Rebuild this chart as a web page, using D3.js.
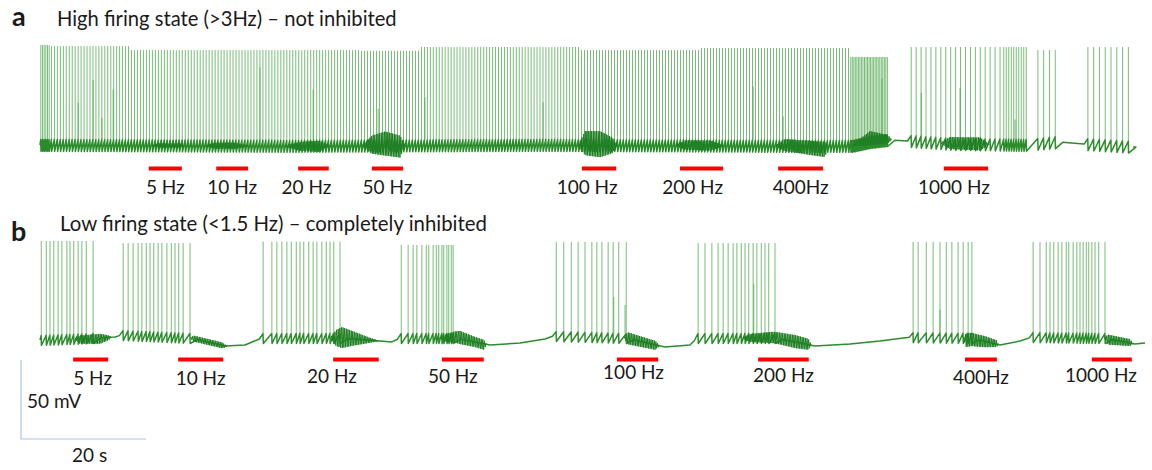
<!DOCTYPE html>
<html>
<head>
<meta charset="utf-8">
<script src="https://cdn.jsdelivr.net/npm/d3@7/dist/d3.min.js"></script>
<style>
body { margin: 0; background: #fff; }
text { font-family: Lato, "Open Sans", sans-serif; fill: #1a1a1a; }
</style>
</head>
<body>
<svg id="fig" width="1152" height="470"></svg>
<script>
// time in s, membrane potential in mV
var stimLabels = ["5 Hz", "10 Hz", "20 Hz", "50 Hz", "100 Hz", "200 Hz", "400Hz", "1000 Hz"];

// panel a: high firing state
var stimA = [[17.4, 22.7], [28.2, 33.3], [41.3, 46.2], [53.1, 58.1], [86.7, 92.2], [102.4, 109.3], [118.1, 125.3], [144.6, 151.7]];
// firing epochs: start, end, spike count, peak mV
var epochsA = [[0, 1.6, 6, 5.2], [1.6, 14.4, 27, 4.5], [14.4, 51.2, 77, 2.0], [51.2, 60.8, 20, 1.5],
               [60.8, 86.4, 54, 3.9], [86.4, 105.6, 40, 2.0], [105.6, 129.6, 50, 3.3], [129.6, 135.7, 25, -2.4],
               [139.0, 154.0, 19, 3.9], [154.0, 158.0, 10, 3.9], [159.2, 162.9, 4, 2.0], [167.2, 174.6, 8, 3.9]];
var partialA = [[6.1, -31.5], [8.5, -17], [9.9, -41], [11.7, -23], [35.2, -9], [43.7, -23], [54.1, -35], [61.6, -28],
                [80.5, -31], [114.1, -21], [118.9, -40], [134.7, -16], [141.0, -25], [147.2, -22], [156.0, -42]];
var baseA = [[0, -58.1], [40, -58.7], [80, -58.1], [120, -58.7], [130, -58.7], [133, -56.2], [136, -54.9],
             [139, -55.6], [146, -57.5], [158, -58.1], [163, -56.2], [167, -57.5], [174.9, -59.4]];
// stimulus artefact envelope: time, up mV, down mV
var artA = [[0, 0, 0], [17.6, 0, 0], [19.2, 1.3, 1.3], [22.4, 1.3, 1.3], [23.2, 0, 0],
            [26.4, 0, 0], [28, 1.9, 1.9], [31.2, 1.9, 1.9], [33.6, 0, 0],
            [39.2, 0, 0], [41.6, 2.5, 3.2], [44.8, 3.2, 3.8], [46.4, 0, 0],
            [51.5, 0, 0], [53.1, 6.3, 5.1], [55.2, 8.9, 6.3], [57.6, 6.3, 7.6], [58.4, 0, 0],
            [86.1, 0, 0], [87.2, 8.9, 6.3], [89.6, 8.9, 7.6], [91.5, 5.1, 5.1], [92.5, 0, 0],
            [101.6, 0, 0], [103.2, 3.2, 2.5], [107.2, 3.2, 3.2], [109.6, 0, 0],
            [117.6, 0, 0], [119.2, 4.4, 3.2], [123.2, 3.2, 5.7], [125.6, 2.5, 7.0], [126.1, 0, 0],
            [129.6, 0, 0], [132.8, 7.0, 1.9], [135.7, 3.2, 1.9], [136.3, 0, 0],
            [144, 0, 0], [145.6, 4.4, 3.2], [150.4, 4.4, 3.8], [152, 0, 0], [174.9, 0, 0]];

// panel b: low firing state
var stimB = [[5.3, 10.9], [22.1, 29.3], [46.9, 54.2], [64.3, 71.0], [92.3, 98.9], [114.9, 123.0], [148.0, 153.1], [168.3, 174.7]];
var spikesB = [
  [0.2, 1.0, 1.6, 2.2, 2.9, 3.5, 4.3, 4.8, 5.4, 6.1, 6.7, 7.4, 8.5],
  [13.3, 14.1, 14.9, 15.7, 16.3, 17.0, 17.6, 18.2, 18.9, 19.5, 20.3, 21.0, 21.6, 22.2, 22.9, 24.0],
  [35.7, 37.1, 37.9, 38.7, 39.5, 40.2, 41.0, 41.6, 42.2, 43.0, 43.7, 44.3, 45.1, 45.8, 46.4, 47.0, 48.0],
  [57.8, 58.9, 59.7, 60.3, 61.1, 61.8, 62.2, 62.9, 63.4, 63.8, 64.3, 64.6, 65.1, 65.4, 65.8, 66.1],
  [82.6, 83.8, 85.0, 86.1, 87.2, 88.3, 89.1, 89.9, 90.9, 91.7, 92.6, 93.8],
  [105.3, 106.4, 107.5, 108.5, 109.3, 110.1, 110.9, 111.5, 112.2, 112.8, 113.4, 114.1, 114.7, 115.4, 116.0, 116.6, 117.6],
  [139.7, 140.5, 141.8, 142.9, 144.0, 145.0, 145.9, 146.9, 147.7, 148.5, 149.1],
  [158.9, 160.0, 161.0, 161.6, 162.2, 162.9, 163.5, 164.2, 164.6, 165.3, 165.9, 166.4, 166.9, 167.4, 167.8, 168.3, 168.8, 169.4, 170.4]
];
var peaksB = [1.4, 0.1, 1.0, -1.1, 0.8, 0.1, 0.8, 0.8];
var partialB = [[91.8, -34], [93.6, -39], [114.2, -26], [144.0, -42]];
var baseB = [[0, -61.3], [8.8, -60], [12, -59.4], [13, -58.1], [24.2, -60], [29.6, -65.1], [32.8, -64.4], [35.5, -60],
             [48, -60], [54.4, -61.9], [56.3, -62.5], [57.6, -60], [66.4, -60], [72, -64.4], [76.8, -63.2],
             [80.8, -60.6], [82.1, -58.7], [93.8, -60], [100, -65.7], [104, -64.4], [105.1, -60], [117.6, -60],
             [124, -65.1], [129.6, -63.8], [134.4, -61.9], [139.2, -59.4], [149.1, -60], [153.6, -64.4],
             [156.8, -61.9], [158.7, -59.4], [170.4, -60], [175.2, -63.8], [176.8, -63.2]];
var artB = [[0, 0, 0], [5.4, 0, 0], [6.4, 1.9, 3.2], [9.6, 2.5, 3.8], [10.9, 1.3, 1.9], [11.5, 0, 0],
            [24, 0, 0], [24.6, 1.9, 1.9], [29.1, 1.9, 1.9], [30.1, 0, 0],
            [46.4, 0, 0], [47.4, 5.1, 5.1], [48.3, 7.0, 6.3], [49.9, 5.1, 4.4], [52.5, 1.9, 1.9], [54.4, 0, 0],
            [64, 0, 0], [65, 2.5, 2.5], [67.2, 5.1, 3.2], [69.6, 3.2, 3.2], [71.0, 2.5, 3.8], [71.5, 0, 0],
            [93.4, 0, 0], [94.1, 3.8, 3.8], [98.4, 2.5, 3.2], [99.2, 0, 0],
            [112.3, 0, 0], [113.6, 2.5, 2.5], [116.8, 3.8, 3.2], [120.8, 4.4, 3.8], [122.9, 3.8, 3.2], [123.5, 0, 0],
            [147.7, 0, 0], [148.2, 3.2, 5.7], [151.2, 3.2, 3.8], [153, 2.5, 1.9], [153.4, 0, 0],
            [170.2, 0, 0], [170.9, 2.5, 3.8], [174.4, 2.5, 1.9], [174.9, 0, 0], [176.8, 0, 0]];

var labelShiftA = [0, 0, -7, 0, -12, -9, 0, -12];
var labelShiftB = [2, 0, -24, -10, -4, 0, 0, -11];
var labelYB = [385, 385, 383, 383, 379, 382, 384, 382];

var svg = d3.select("#fig");
var x = d3.scaleLinear().domain([0, 176.8]).range([40, 1145]);
var yA = d3.scaleLinear().domain([-60, 0]).range([148, 53.2]);
var yB = d3.scaleLinear().domain([-60, 0]).range([338, 243.2]);

var traceDark = "#2b8c2b";
var spikeColor = "#3f9f3f";

function interp(arr, col) {
  return d3.scaleLinear().domain(arr.map(function(d) { return d[0]; }))
    .range(arr.map(function(d) { return d[col]; })).clamp(true);
}

function buildTrace(spk, base, tEnd, thr, ahp) {
  var pts = [[0, base(0)]], tPrev = null;
  var knots = base.domain();
  function addBase(a, b) {
    knots.forEach(function(t) { if (t > a && t < b) pts.push([t, base(t)]); });
  }
  spk.forEach(function(s) {
    var t = s[0];
    if (tPrev === null || t - tPrev > 2.5) {
      var from = tPrev === null ? 0 : tPrev + 1.2;
      if (tPrev !== null) pts.push([from, base(from)]);
      if (t - 0.6 > from) {
        addBase(from, t - 0.6);
        pts.push([t - 0.6, base(t - 0.6)]);
      }
    }
    pts.push([t - 0.02, base(t) + thr]);
    pts.push([t + 0.03, base(t) - ahp]);
    tPrev = t;
  });
  pts.push([tPrev + 1.2, base(tPrev + 1.2)]);
  addBase(tPrev + 1.2, tEnd);
  pts.push([tEnd, base(tEnd)]);
  return pts;
}

function artefactPath(art, base, y, tEnd) {
  var up = interp(art, 1), dn = interp(art, 2);
  var d = "", on = false, k = 0;
  for (var t = 0; t <= tEnd; t += 0.13) {
    var u = up(t), w = dn(t);
    if (u + w > 0.4) {
      var v = (k++ % 2) ? base(t) + u : base(t) - w;
      d += (on ? "L" : "M") + x(t).toFixed(2) + "," + y(v).toFixed(2);
      on = true;
    } else {
      on = false;
    }
  }
  return d;
}

function drawPanel(spk, partial, baseArr, art, y, tEnd, thr, ahp) {
  var base = interp(baseArr, 1);
  var g = svg.append("g");
  var line = d3.line().x(function(d) { return x(d[0]); }).y(function(d) { return y(d[1]); });

  g.selectAll("line.spike")
    .data(spk.concat(partial))
    .enter()
    .append("line")
    .attr("class", "spike")
    .attr("x1", function(d) { return x(d[0]); })
    .attr("x2", function(d) { return x(d[0]); })
    .attr("y1", function(d) { return y(base(d[0]) + thr); })
    .attr("y2", function(d) { return y(d[1]); })
    .attr("stroke", spikeColor)
    .attr("stroke-opacity", 0.7)
    .attr("stroke-width", 1);

  g.append("path")
    .attr("d", line(buildTrace(spk, base, tEnd, thr, ahp)))
    .attr("fill", "none")
    .attr("stroke", traceDark)
    .attr("stroke-width", 1.5)
    .attr("stroke-linejoin", "round");

  g.append("path")
    .attr("d", artefactPath(art, base, y, tEnd))
    .attr("fill", "none")
    .attr("stroke", "#1f7f24")
    .attr("stroke-width", 1);
}

// spike lists
var spkA = [];
epochsA.forEach(function(e) {
  var step = (e[1] - e[0]) / e[2];
  for (var i = 0; i < e[2]; i++) spkA.push([e[0] + (i + 0.5) * step, e[3]]);
});
var spkB = [];
spikesB.forEach(function(burst, i) {
  burst.forEach(function(t) { spkB.push([t, peaksB[i]]); });
});

drawPanel(spkA, partialA, baseA, artA, yA, 174.9, 3.5, 4.0);
drawPanel(spkB, partialB, baseB, artB, yB, 176.8, 2.8, 3.5);

// stimulation bars and labels
function drawStim(stim, yBar, shifts, ys) {
  svg.append("g").selectAll("line")
    .data(stim)
    .enter()
    .append("line")
    .attr("x1", function(d) { return x(d[0]); })
    .attr("x2", function(d) { return x(d[1]); })
    .attr("y1", yBar)
    .attr("y2", yBar)
    .attr("stroke", "#ff0000")
    .attr("stroke-width", 4);

  svg.append("g").selectAll("text")
    .data(stim)
    .enter()
    .append("text")
    .text(function(d, i) { return stimLabels[i]; })
    .attr("x", function(d, i) { return (x(d[0]) + x(d[1])) / 2 + shifts[i]; })
    .attr("y", function(d, i) { return ys[i]; })
    .attr("text-anchor", "middle")
    .attr("font-size", 19);
}
drawStim(stimA, 168.5, labelShiftA, stimLabels.map(function() { return 194; }));
drawStim(stimB, 359.5, labelShiftB, labelYB);

// panel titles
svg.append("text").text("a").attr("x", 12).attr("y", 26).attr("font-size", 27).attr("font-weight", "bold");
svg.append("text").text("High firing state (>3Hz) \u2013 not inhibited").attr("x", 57).attr("y", 26).attr("font-size", 20.2);
svg.append("text").text("b").attr("x", 11).attr("y", 241).attr("font-size", 27).attr("font-weight", "bold");
svg.append("text").text("Low firing state (<1.5 Hz) \u2013 completely inhibited").attr("x", 60).attr("y", 231).attr("font-size", 20.4);

// scale bar: 50 mV, 20 s
var sx = 21, sy = 439;
var barH = yB(-60) - yB(-10), barW = x(20) - x(0);
svg.append("path")
  .attr("d", "M" + sx + "," + (sy - barH) + "V" + sy + "H" + (sx + barW))
  .attr("fill", "none")
  .attr("stroke", "#a8c6e3")
  .attr("stroke-width", 1.2);
svg.append("text").text("50 mV").attr("x", 27).attr("y", 408).attr("font-size", 19);
svg.append("text").text("20 s").attr("x", 72).attr("y", 462).attr("font-size", 19);
</script>
</body>
</html>
